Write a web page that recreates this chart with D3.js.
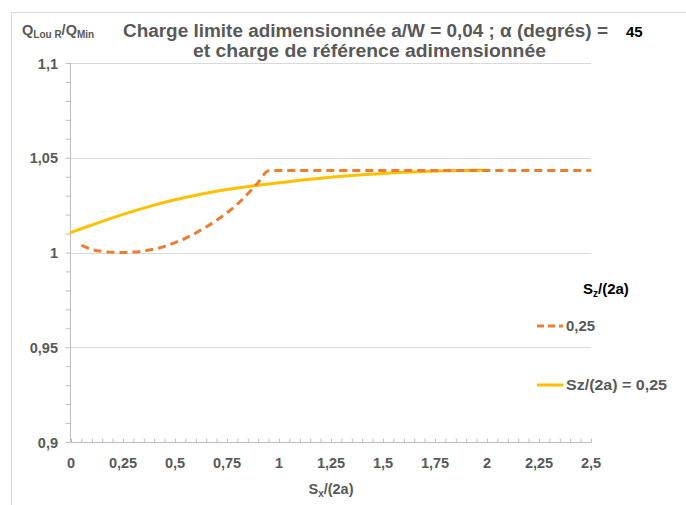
<!DOCTYPE html>
<html><head><meta charset="utf-8">
<script src="https://cdn.jsdelivr.net/npm/d3@7"></script>
<style>
body{margin:0;background:#fff;}
text{font-family:"Liberation Sans",Arial,sans-serif;font-weight:bold;}
</style></head>
<body><svg id="c" width="686" height="505"></svg>
<script>
const xTicks = [0,0.25,0.5,0.75,1,1.25,1.5,1.75,2,2.25,2.5];
const xTickLabels = ["0","0,25","0,5","0,75","1","1,25","1,5","1,75","2","2,25","2,5"];
const yTicks = [0.9,0.95,1,1.05,1.1];
const yTickLabels = ["0,9","0,95","1","1,05","1,1"];

const dashX = [0.05,0.1,0.15,0.2,0.25,0.3,0.35,0.4,0.45,0.5,0.55,0.6,0.65,0.7,0.75,0.8,0.85,0.9,0.95,1.0,1.25,1.5,1.75,2.0,2.25,2.5];
const dashY = [1.0037,1.0016,1.0006,1.0001,1.0,1.0002,1.0008,1.0018,1.0032,1.0052,1.0075,1.0103,1.0135,1.017,1.021,1.0255,1.031,1.037,1.0431,1.0433,1.0433,1.0433,1.0433,1.0433,1.0433,1.0433];

const solidX = [0,0.1,0.2,0.3,0.4,0.5,0.6,0.7,0.8,0.9,1.0,1.1,1.2,1.3,1.4,1.5,1.6,1.7,1.8,1.9,2.0];
const solidY = [1.0106,1.0145,1.0183,1.0218,1.025,1.0278,1.0302,1.0323,1.034,1.0355,1.0368,1.0381,1.0392,1.0402,1.041,1.0417,1.0423,1.0428,1.0431,1.0433,1.0434];

const svg = d3.select("#c");
const x = d3.scaleLinear().domain([0,2.5]).range([71,591]);
const y = d3.scaleLinear().domain([0.9,1.1]).range([442,63]);
const gray = "#595959";

// outer border
svg.append("rect").attr("x",11.5).attr("y",12.5).attr("width",700).attr("height",520)
  .attr("fill","none").attr("stroke","#d9d9d9");

// gridlines
svg.append("g").selectAll("line").data(yTicks.filter(d=>d>0.9)).join("line")
  .attr("x1",x(0)).attr("x2",x(2.5)).attr("y1",d=>Math.round(y(d))+0.5).attr("y2",d=>Math.round(y(d))+0.5)
  .attr("stroke","#d9d9d9").attr("stroke-width",1);

// y axis
const yMinor = d3.range(90,111).map(d=>d/100);
const yAxis = d3.axisLeft(y).tickValues(yMinor).tickSize(5).tickFormat("");
const gy = svg.append("g").attr("transform",`translate(${x(0)-0.5},0)`).call(yAxis);
gy.selectAll("line").attr("stroke","#bfbfbf");
gy.select(".domain").attr("stroke","#bfbfbf").attr("d",`M0,${y(1.1)}V${y(0.9)}`);
svg.append("g").selectAll("text").data(yTicks).join("text")
  .attr("x",58).attr("y",d=>y(d)+5.5).attr("text-anchor","end")
  .attr("fill",gray).attr("font-size",14.5).text((d,i)=>yTickLabels[i]);

// x axis
const xMinor = d3.range(0,51).map(d=>d*0.05);
const xAxis = d3.axisBottom(x).tickValues(xMinor).tickSize(4).tickFormat("");
const gx = svg.append("g").attr("transform",`translate(0,${y(0.9)+0.5})`).call(xAxis);
gx.selectAll("line").attr("stroke","#bfbfbf").attr("transform","translate(0,-4)");
gx.select(".domain").attr("stroke","#bfbfbf").attr("d",`M${x(0)},0H${x(2.5)}`);
svg.append("g").selectAll("text").data(xTicks).join("text")
  .attr("x",d=>x(d)).attr("y",468).attr("text-anchor","middle")
  .attr("fill",gray).attr("font-size",14.5).text((d,i)=>xTickLabels[i]);

// series
const line = d3.line().x(d=>x(d[0])).y(d=>y(d[1])).curve(d3.curveMonotoneX);
svg.append("path").datum(solidX.map((v,i)=>[v,solidY[i]])).attr("d",line)
  .attr("fill","none").attr("stroke","#ffc000").attr("stroke-width",3).attr("stroke-linecap","round");
svg.append("path").datum(dashX.map((v,i)=>[v,dashY[i]])).attr("d",line)
  .attr("fill","none").attr("stroke","#ed7d31").attr("stroke-width",3).attr("stroke-dasharray","8,5");

// title
svg.append("text").attr("x",123).attr("y",37).attr("fill",gray).attr("font-size",18)
  .attr("textLength",485).attr("lengthAdjust","spacingAndGlyphs")
  .text("Charge limite adimensionnée a/W = 0,04 ; α (degrés) =");
svg.append("text").attr("x",626).attr("y",37).attr("fill","#000").attr("font-size",15).text("45");
svg.append("text").attr("x",193).attr("y",57).attr("fill",gray).attr("font-size",18)
  .attr("textLength",353).attr("lengthAdjust","spacingAndGlyphs")
  .text("et charge de référence adimensionnée");

// y axis title
const yt = svg.append("text").attr("x",22).attr("y",35).attr("fill",gray).attr("font-size",14.5);
yt.append("tspan").text("Q");
yt.append("tspan").attr("font-size",10).attr("dy",3).text("Lou R");
yt.append("tspan").attr("dy",-3).text("/Q");
yt.append("tspan").attr("font-size",10).attr("dy",3).text("Min");

// x axis title
const xt = svg.append("text").attr("x",331).attr("y",494).attr("text-anchor","middle").attr("fill",gray).attr("font-size",14.5);
xt.append("tspan").text("S");
xt.append("tspan").attr("font-size",10).attr("dy",3).text("x");
xt.append("tspan").attr("dy",-3).text("/(2a)");

// legend
const lt = svg.append("text").attr("x",583).attr("y",294).attr("fill","#000").attr("font-size",15);
lt.append("tspan").text("S");
lt.append("tspan").attr("font-size",10).attr("dy",3).text("z");
lt.append("tspan").attr("dy",-3).text("/(2a)");

svg.append("line").attr("x1",537).attr("x2",563).attr("y1",326).attr("y2",326)
  .attr("stroke","#ed7d31").attr("stroke-width",3).attr("stroke-dasharray","7,4");
svg.append("text").attr("x",566).attr("y",331).attr("fill",gray).attr("font-size",15).text("0,25");
svg.append("line").attr("x1",537).attr("x2",563).attr("y1",385).attr("y2",385)
  .attr("stroke","#ffc000").attr("stroke-width",3);
svg.append("text").attr("x",566).attr("y",390).attr("fill",gray).attr("font-size",15)
  .attr("textLength",101).attr("lengthAdjust","spacingAndGlyphs").text("Sz/(2a) = 0,25");
</script></body></html>
